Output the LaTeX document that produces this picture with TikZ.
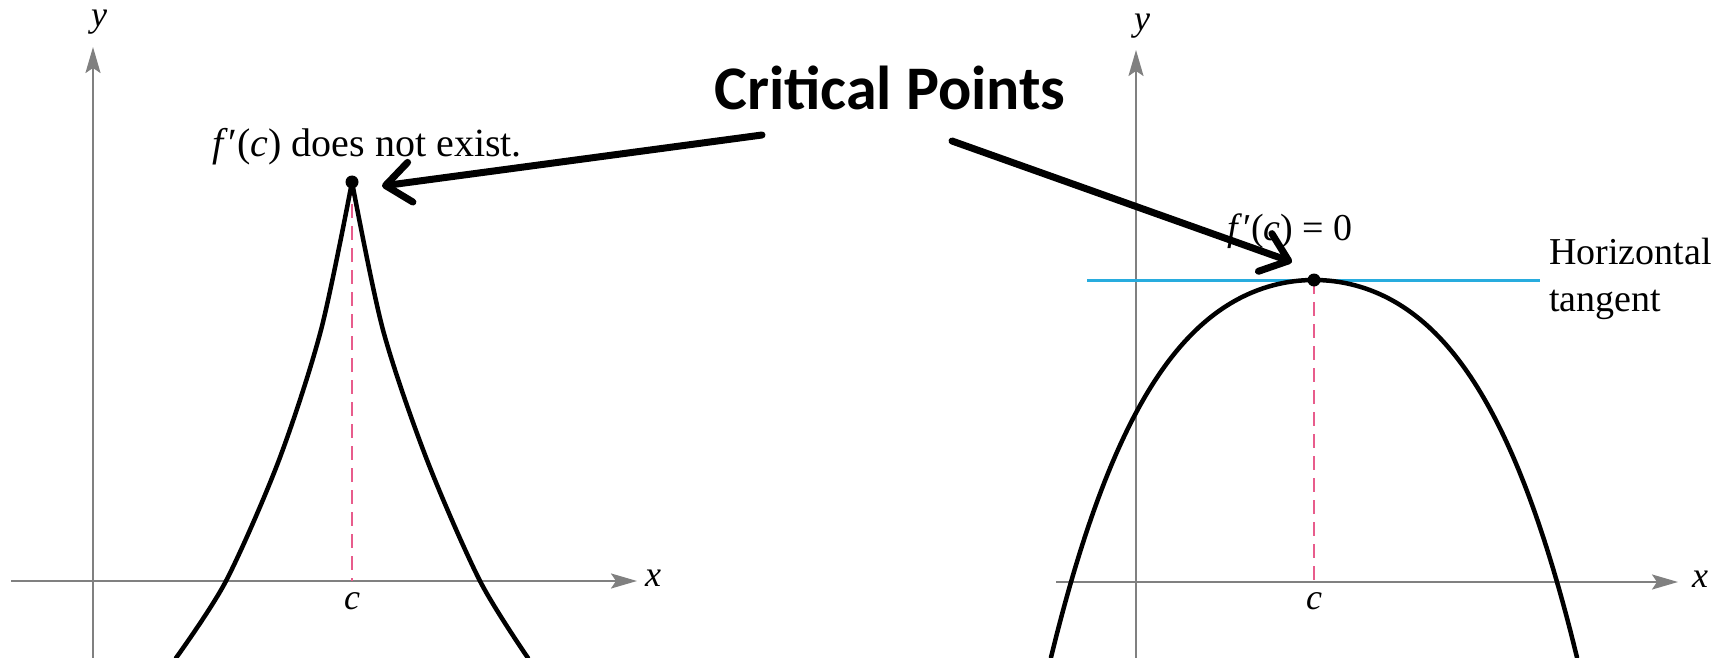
\documentclass[tikz,border=0pt]{standalone}
\usepackage{fontspec}
\setmainfont{Liberation Serif}
\newfontfamily\calib{Carlito}
\usetikzlibrary{arrows.meta}
\definecolor{axisgray}{RGB}{128,128,128}
\definecolor{pinkdash}{RGB}{232,92,140}
\definecolor{tangcyan}{RGB}{40,172,222}
\begin{document}
\begin{tikzpicture}[x=1pt,y=-1pt,
  axis/.style={axisgray, line width=2.2pt, -{Stealth[length=26pt,width=15pt,inset=5pt]}},
  curve/.style={black, line width=4.5pt, line cap=round},
  guide/.style={pinkdash, line width=2.2pt, dash pattern=on 14pt off 8pt},
  tang/.style={tangcyan, line width=3pt},
  callout/.style={black, line width=7pt, line cap=round, -{Straight Barb[length=25pt,width=40pt,round]}},
  lbl/.style={font=\fontsize{36}{40}\selectfont\itshape, inner sep=0pt},
  txt/.style={font=\fontsize{38}{40}\selectfont, inner sep=0pt},
  dot/.style={circle, fill=black, inner sep=0pt, minimum size=13pt}]
\useasboundingbox (0,0) rectangle (1725,658);
% ---------- left graph ----------
\coordinate (L-xs) at (11,581);
\coordinate (L-xe) at (637,581);
\coordinate (L-ys) at (93,658);
\coordinate (L-ye) at (93,47);
\draw[axis] (L-xs) -- (L-xe);
\draw[axis] (L-ys) -- (L-ye);
\node[lbl] (L-x) at (653,578) {x};
\node[lbl] (L-y) at (99,22) {y};
\coordinate (L-peak) at (352,182);
\coordinate (L-foot) at (352,581);
\draw[guide] (L-peak) -- (L-foot);
\node[lbl] (L-c) at (352,601) {c};
\draw[curve] plot[smooth] coordinates {(352,182) (321,330) (279,460) (226,581) (176,658)};
\draw[curve] plot[smooth] coordinates {(352,182) (383,330) (427,460) (480,581) (528,658)};
\node[dot] (L-dot) at (L-peak) {};
\node[txt, font=\fontsize{40}{42}\selectfont, anchor=base] (L-note) at (367,157) {\textit{f}\kern1pt′(\textit{c}) does not exist.};
% ---------- right graph ----------
\coordinate (R-xs) at (1056,582);
\coordinate (R-xe) at (1678,582);
\coordinate (R-ys) at (1136,658);
\coordinate (R-ye) at (1136,50);
\draw[axis] (R-xs) -- (R-xe);
\draw[axis] (R-ys) -- (R-ye);
\node[lbl] (R-x) at (1700,579) {x};
\node[lbl] (R-y) at (1142,26) {y};
\coordinate (R-peak) at (1314,280);
\coordinate (R-foot) at (1314,582);
\draw[guide] (R-peak) -- (R-foot);
\node[lbl] (R-c) at (1314,601) {c};
\coordinate (T-s) at (1087,280);
\coordinate (T-e) at (1540,280);
\draw[tang] (T-s) -- (T-e);
\draw[curve] plot[domain=-2.63:2.63, samples=90, smooth] ({1314+100*\x},{280+31.21*\x*\x+3.376*\x*\x*\x*\x});
\node[dot] (R-dot) at (R-peak) {};
\node[txt, anchor=base] (R-note) at (1290,240) {\textit{f}\kern1pt′(\textit{c}) = 0};
\node[txt, font=\fontsize{38}{47}\selectfont, anchor=north west, align=left] (R-tan) at (1549,238) {Horizontal\\tangent};
% ---------- title and callouts ----------
\node[font=\calib\bfseries\fontsize{62}{66}\selectfont, inner sep=0pt, anchor=base] (title) at (890,110) {Critical Points};
\coordinate (C-l) at (762,135);
\coordinate (C-r) at (952,141);
\coordinate (L-tip) at (382,186);
\coordinate (R-tip) at (1292,262);
\draw[callout] (C-l) -- (L-tip);
\draw[callout] (C-r) -- (R-tip);
\end{tikzpicture}
\end{document}
